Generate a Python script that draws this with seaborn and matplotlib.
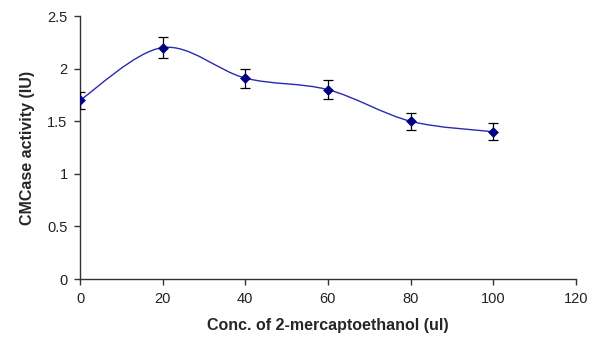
import numpy as np
import matplotlib
matplotlib.use("Agg")
import matplotlib.pyplot as plt
from matplotlib.path import Path
from matplotlib.patches import PathPatch
import pandas as pd
import seaborn as sns

conc = [0, 20, 40, 60, 80, 100]
activity = [1.70, 2.20, 1.91, 1.80, 1.50, 1.40]
err = [0.08, 0.10, 0.09, 0.09, 0.08, 0.08]

df = pd.DataFrame({'conc': conc, 'activity': activity, 'err': err})

sns.set_style("ticks")
plt.rcParams['font.family'] = ['Liberation Sans', 'DejaVu Sans']

fig = plt.figure(figsize=(6.08, 3.48), dpi=100)
ax = fig.add_axes([0.1316, 0.198, 0.8155, 0.756])


def smooth_path(x, y):
    # excel-like smoothed line: cubic bezier through each point
    x = np.asarray(x, float)
    y = np.asarray(y, float)
    n = len(x)
    verts = [(x[0], y[0])]
    codes = [Path.MOVETO]
    for i in range(n - 1):
        p0 = np.array([x[max(i - 1, 0)], y[max(i - 1, 0)]])
        p1 = np.array([x[i], y[i]])
        p2 = np.array([x[i + 1], y[i + 1]])
        p3 = np.array([x[min(i + 2, n - 1)], y[min(i + 2, n - 1)]])
        c1 = p1 + (p2 - p0) / 6
        c2 = p2 - (p3 - p1) / 6
        verts += [tuple(c1), tuple(c2), tuple(p2)]
        codes += [Path.CURVE4] * 3
    return Path(verts, codes)


ax.add_patch(PathPatch(smooth_path(df['conc'], df['activity']), facecolor='none',
                       edgecolor='#2A2AB0', lw=1.0, zorder=2))
ax.errorbar(df['conc'], df['activity'], yerr=df['err'], fmt='none', ecolor='black',
            elinewidth=0.9, capsize=3.5, capthick=0.9, zorder=3)
sns.scatterplot(x='conc', y='activity', data=df, marker='D', s=26, color='#000080',
                edgecolor='#000080', zorder=4, ax=ax)

ax.set_xlim(0, 120)
ax.set_ylim(0, 2.5)
ax.set_xticks(np.arange(0, 121, 20))
ax.set_yticks([0, 0.5, 1, 1.5, 2, 2.5])
ax.set_yticklabels(['0', '0.5', '1', '1.5', '2', '2.5'])
for s in ['top', 'right']:
    ax.spines[s].set_visible(False)
for s in ['left', 'bottom']:
    ax.spines[s].set_color('#333333')
    ax.spines[s].set_linewidth(1.0)
ax.tick_params(direction='out', length=4, width=1, color='#333333', labelsize=10.5,
               labelcolor='#222222', pad=5)
ax.set_xlabel('Conc. of 2-mercaptoethanol (ul)', fontsize=11.5, fontweight='bold', labelpad=9)
ax.set_ylabel('CMCase activity (IU)', fontsize=11.5, fontweight='bold', labelpad=9)

plt.savefig('out.png', dpi=100)
